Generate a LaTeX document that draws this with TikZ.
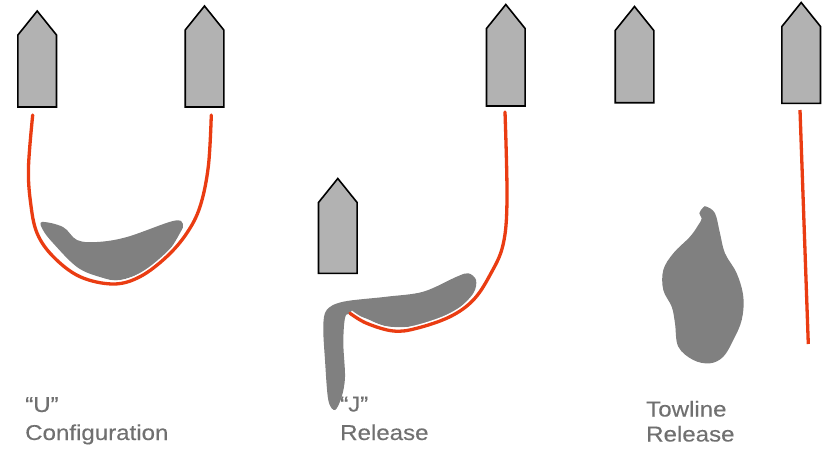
\documentclass[tikz,border=0pt]{standalone}
\usepackage{fontspec}
\newfontfamily\labelfont[FakeStretch=1.12,FakeBold=0.3]{Liberation Sans}
\begin{document}
\definecolor{hullgray}{RGB}{178,178,178}
\definecolor{oilgray}{RGB}{128,128,128}
\definecolor{towred}{RGB}{234,60,18}
\definecolor{textgray}{RGB}{112,112,112}
\tikzset{
  hull/.style={draw=black,fill=hullgray,line width=1.6pt,line join=miter},
  oil/.style={fill=oilgray,draw=none},
  towline/.style={draw=towred,line width=3.3pt,line cap=round},
  halo/.style={draw=white,line width=6.5pt},
  caption/.style={anchor=base west,inner sep=0pt,text=textgray,
    font={\labelfont\fontsize{21.5}{28}\selectfont}}
}
% vessel: centre x, bow tip y, stern y
\newcommand\vessel[3]{%
  \draw[hull] (#1-19.3,#3) -- (#1-19.3,#2+24) -- (#1,#2) -- (#1+19.3,#2+24) -- (#1+19.3,#3) -- cycle;}
\begin{tikzpicture}[x=1pt,y=-1pt]
\useasboundingbox (0,0) rectangle (825,450);

% ---------- "U" configuration ----------
\vessel{37.2}{11}{107}
\vessel{204.5}{6}{107}
\fill[oil] plot[smooth cycle,tension=0.6] coordinates {
  (42,222) (63,227) (77,240) (97,242) (127,237) (173,221) (183,224)
  (180,233) (167,253) (147,270) (120,280) (100,277) (77,267) (53,243) (43,230)};
\coordinate (sA)  at (32.7,115);
\coordinate (uL1) at (28.5,167);
\coordinate (uL2) at (30.5,202);
\coordinate (uL3) at (37,233);
\coordinate (uL4) at (53.3,256.7);
\coordinate (uL5) at (80,276.7);
\coordinate (uB)  at (113.3,284);
\coordinate (uR5) at (140,276.7);
\coordinate (uR4) at (166.7,256.7);
\coordinate (uR3) at (186.7,233.3);
\coordinate (uR2) at (200,206.7);
\coordinate (uR1) at (208.3,166.7);
\coordinate (sB)  at (211.3,115);
\foreach \st in {halo,towline}
  \draw[\st] plot[smooth,tension=0.6] coordinates {
    (sA) (uL1) (uL2) (uL3) (uL4) (uL5) (uB) (uR5) (uR4) (uR3) (uR2) (uR1) (sB)};

% ---------- "J" release ----------
\vessel{505.8}{4.5}{106}
\vessel{337.8}{178.5}{273.3}
\fill[oil] plot[smooth cycle,tension=0.55] coordinates {
  (326.7,310) (343.3,301.7) (386.7,296.7) (423.3,291.7) (456.7,276.7)
  (468.3,273.3) (476,280) (473.3,293.3) (456.7,310) (433.3,321.7)
  (410,326.7) (385,326) (365,318) (350,314) (345,318) (343.3,343)
  (345,376.7) (341.7,396.7) (335,410) (328.3,400) (325,360) (323.3,326.7)};
\coordinate (sC) at (505,112);
\coordinate (j1) at (507,200);
\coordinate (j2) at (503,245);
\coordinate (j3) at (490,275);
\coordinate (j4) at (473.3,300);
\coordinate (j5) at (450,316.7);
\coordinate (j6) at (416.7,328.3);
\coordinate (j7) at (393.3,331);
\coordinate (j8) at (366.7,323.3);
\coordinate (jEnd) at (350,313.3);
\foreach \st in {halo,towline}
  \draw[\st] plot[smooth,tension=0.6] coordinates {
    (sC) (j1) (j2) (j3) (j4) (j5) (j6) (j7) (j8) (jEnd)};

% ---------- Towline release ----------
\vessel{634.5}{6.5}{102.7}
\vessel{801.2}{2.5}{103.3}
\fill[oil] plot[smooth cycle,tension=0.6] coordinates {
  (706.7,206.7) (715,213.3) (720,233.3) (725,253.3) (736.7,273.3)
  (743.3,296.7) (741.7,320) (733.3,340) (723.3,356.7) (710,363.3)
  (693.3,360) (678.3,346.7) (675,323.3) (671.7,306.7) (663.3,290)
  (663.3,270) (673.3,253.3) (690,236.7) (698.3,225) (701.7,218.3)
  (699.3,213.3) (703.3,207.3)};
\coordinate (sF) at (800,110);
\coordinate (tEnd) at (808.3,344);
\draw[towline,line cap=butt] (sF) -- (tEnd);

% ---------- captions ----------
\node[caption] (capU1) at (25,412) {“U”};
\node[caption] (capU2) at (25,440) {Configuration};
\node[caption] (capJ1) at (340,411.5) {“J”};
\node[caption] (capJ2) at (340,440) {Release};
\node[caption] (capT1) at (646,416.5) {Towline};
\node[caption] (capT2) at (646,441.5) {Release};
\end{tikzpicture}
\end{document}
